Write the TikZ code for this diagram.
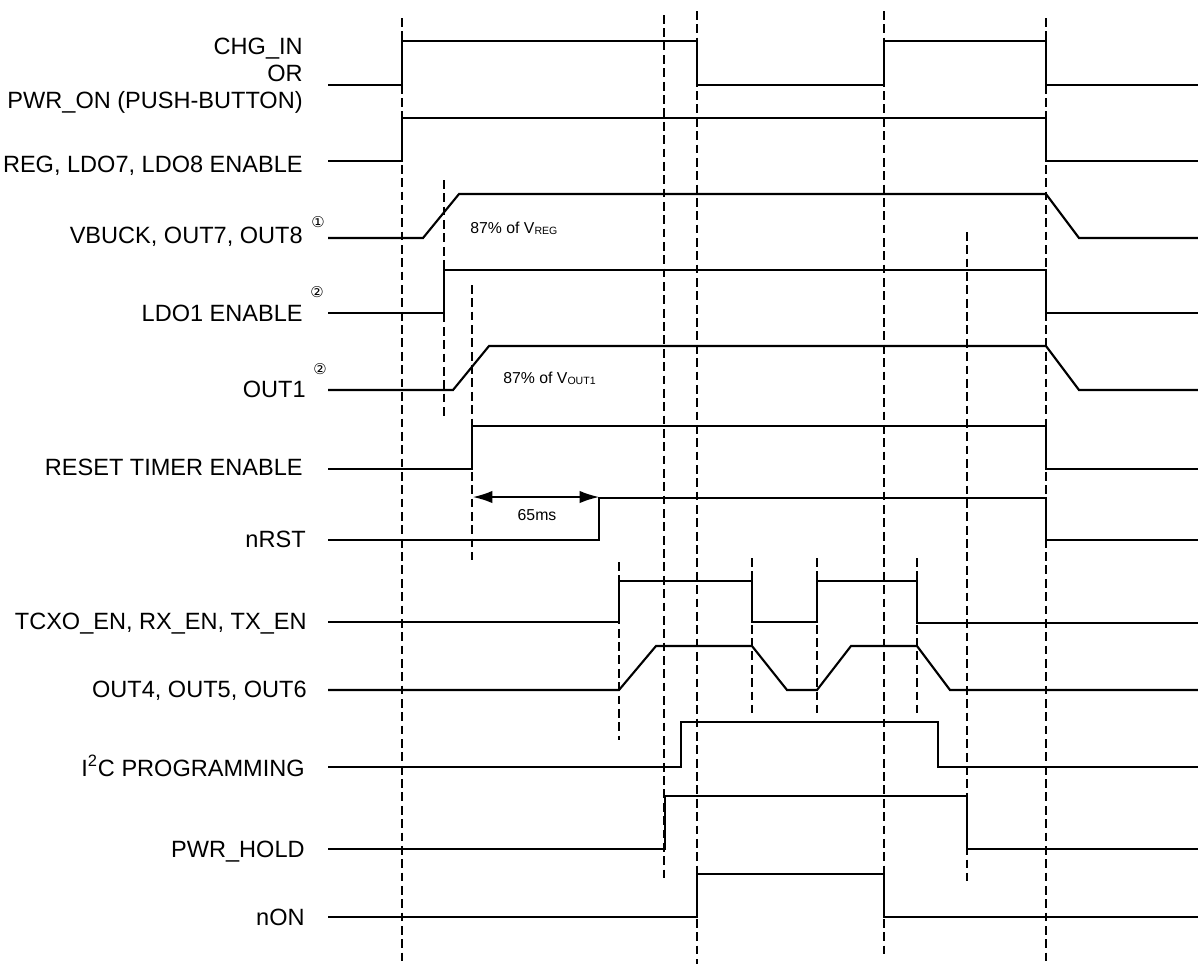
\documentclass[tikz,border=0pt]{standalone}
\usepackage{fontspec}
\setmainfont{Liberation Sans}
\newfontfamily\circfont{DejaVu Sans}
\usetikzlibrary{arrows.meta}

\begin{document}
\begin{tikzpicture}[
  x=0.02cm, y=-0.02cm,
  sig/.style={line width=1.2pt},
  guide/.style={line width=0.6pt, dash pattern=on 5pt off 2.6pt},
  lbl/.style={inner sep=0pt, anchor=base east, font=\fontsize{13.4pt}{15.3pt}\selectfont},
  note/.style={inner sep=0pt, font=\fontsize{9pt}{11pt}\selectfont},
  circnum/.style={inner sep=0pt, font=\circfont\fontsize{8.5pt}{9pt}\selectfont},
  dimarrow/.style={line width=0.8pt, {Latex[length=11pt,width=7pt]}-{Latex[length=11pt,width=7pt]}},
]
\useasboundingbox (0,0) rectangle (1198,964);

% ---------------- Guides ----------------
\draw[guide] (402,18) -- (402,964);
\draw[guide] (664,15) -- (664,881);
\draw[guide] (697,11) -- (697,964);
\draw[guide] (884,11) -- (884,957);
\draw[guide] (1046,18) -- (1046,964);
\draw[guide] (444,180) -- (444,420);
\draw[guide] (472,285) -- (472,560);
\draw[guide] (967,232) -- (967,881);
\draw[guide] (619,562) -- (619,740);
\foreach \gx in {752,817,917} \draw[guide] (\gx,558) -- (\gx,713);

% ---------------- Signal names ----------------
\node[lbl, anchor=north east, align=right] (lChg) at (303,38) {CHG\_IN\\OR\\PWR\_ON (PUSH-BUTTON)};
\node[lbl] (lReg)   at (303,172) {REG, LDO7, LDO8 ENABLE};
\node[lbl] (lBuck)  at (303,243) {VBUCK, OUT7, OUT8};
\node[lbl] (lLdo)   at (303,321) {LDO1 ENABLE};
\node[lbl] (lOut1)  at (306,397) {OUT1};
\node[lbl] (lTmr)   at (303,475) {RESET TIMER ENABLE};
\node[lbl] (lRst)   at (306,547) {nRST};
\node[lbl] (lTcxo)  at (307,629) {TCXO\_EN, RX\_EN, TX\_EN};
\node[lbl] (lOut4)  at (307,697) {OUT4, OUT5, OUT6};
\node[lbl] (lI2c)   at (305,776) {I\textsuperscript{2}C PROGRAMMING};
\node[lbl] (lHold)  at (305,857) {PWR\_HOLD};
\node[lbl] (lnOn)   at (305,925) {nON};

\node[circnum] (c1)  at (318,222) {①};
\node[circnum] (c2a) at (317,292) {②};
\node[circnum] (c2b) at (320,369) {②};

% ---------------- Waveforms ----------------
\draw[sig] (328,85) -- (402,85) -- (402,41) -- (697,41) -- (697,85) -- (884,85) -- (884,41) -- (1046,41) -- (1046,85) -- (1198,85);
\draw[sig] (328,161) -- (402,161) -- (402,118) -- (1046,118) -- (1046,161) -- (1198,161);
\draw[sig] (328,238) -- (423,238) -- (459,194) -- (1046,194) -- (1079,238) -- (1198,238);
\draw[sig] (328,313) -- (444,313) -- (444,270) -- (1046,270) -- (1046,313) -- (1198,313);
\draw[sig] (328,390) -- (453,390) -- (489,346) -- (1046,346) -- (1079,390) -- (1198,390);
\draw[sig] (328,469) -- (472,469) -- (472,426) -- (1046,426) -- (1046,469) -- (1198,469);
\draw[sig] (328,540) -- (599,540) -- (599,498) -- (1046,498) -- (1046,540) -- (1198,540);
\draw[sig] (328,622) -- (619,622) -- (619,581) -- (752,581) -- (752,622) -- (817,622) -- (817,581) -- (917,581) -- (917,623) -- (1198,623);
\draw[sig] (328,690) -- (619,690) -- (656,646) -- (752,646) -- (787,690) -- (817,690) -- (851,646) -- (917,646) -- (950,690) -- (1198,690);
\draw[sig] (328,767) -- (681,767) -- (681,722) -- (938,722) -- (938,767) -- (1198,767);
\draw[sig] (328,849) -- (665,849) -- (665,796) -- (967,796) -- (967,849) -- (1198,849);
\draw[sig] (328,917) -- (697,917) -- (697,874) -- (884,874) -- (884,917) -- (1198,917);

% ---------------- Notes ----------------
\node[note, anchor=base west] (nReg)  at (470,233) {87\% of V\textsubscript{REG}};
\node[note, anchor=base west] (nOut1) at (503,383) {87\% of V\textsubscript{OUT1}};

\coordinate (tmrA) at (473,497);
\coordinate (tmrB) at (599,497);
\draw[dimarrow] (tmrA) -- (tmrB);
\node[note] (nDly) at (537,515) {65ms};
\end{tikzpicture}
\end{document}
